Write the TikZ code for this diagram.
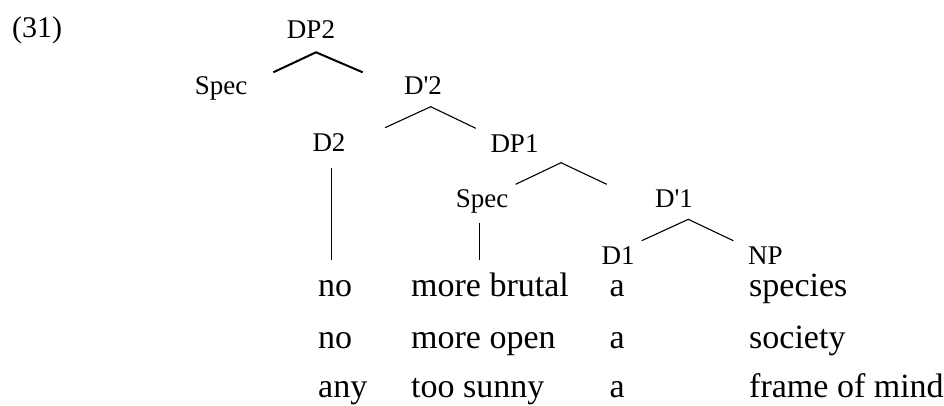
\documentclass[tikz,border=0pt]{standalone}
\usepackage{fontspec}
\setmainfont{Liberation Serif}
\begin{document}
\begin{tikzpicture}[x=1pt,y=-1pt,
  lbl/.style={inner sep=0pt,anchor=base,font=\fontsize{27}{32}\selectfont},
  word/.style={inner sep=0pt,anchor=base west,font=\fontsize{34}{40}\selectfont},
  branch/.style={line width=1.1pt},
  rootbranch/.style={line width=2pt},
  stem/.style={line width=1pt}]
\useasboundingbox (0,0) rectangle (944,405);
% example number
\node[word,font=\fontsize{30}{36}\selectfont] (ex) at (12,37) {(31)};
% tree labels
\node[lbl] (DPtwo) at (311,38) {DP2};
\node[lbl] (SpecA) at (221,94.5) {Spec};
\node[lbl] (Dbartwo) at (423,94.5) {D\textquotesingle 2};
\node[lbl] (Dtwo) at (329,151) {D2};
\node[lbl] (DPone) at (514.5,152) {DP1};
\node[lbl] (SpecB) at (482,207) {Spec};
\node[lbl] (Dbarone) at (674,207) {D\textquotesingle 1};
\node[lbl] (Done) at (618,264) {D1};
\node[lbl,anchor=base west] (NP) at (748,264) {NP};
% branch points
\coordinate (DPtwo-l) at (273.3,72.3);
\coordinate (DPtwo-a) at (316,52.3);
\coordinate (DPtwo-r) at (362.7,72.3);
\coordinate (Dbartwo-l) at (385,127.7);
\coordinate (Dbartwo-a) at (430.7,106.7);
\coordinate (Dbartwo-r) at (475.8,128.3);
\coordinate (DPone-l) at (515.7,184.3);
\coordinate (DPone-a) at (561,162.7);
\coordinate (DPone-r) at (606.7,184.3);
\coordinate (Dbarone-l) at (641.7,240.7);
\coordinate (Dbarone-a) at (688.3,219.3);
\coordinate (Dbarone-r) at (733.3,240.7);
\coordinate (Dtwo-t) at (331,168.3);
\coordinate (Dtwo-b) at (331,260);
\coordinate (SpecB-t) at (479.3,223.3);
\coordinate (SpecB-b) at (479.3,260);
% branches
\draw[rootbranch] (DPtwo-l) -- (DPtwo-a) -- (DPtwo-r);
\draw[branch] (Dbartwo-l) -- (Dbartwo-a) -- (Dbartwo-r);
\draw[branch] (DPone-l) -- (DPone-a) -- (DPone-r);
\draw[branch] (Dbarone-l) -- (Dbarone-a) -- (Dbarone-r);
\draw[stem] (Dtwo-t) -- (Dtwo-b);
\draw[stem] (SpecB-t) -- (SpecB-b);
% rows of words
\node[word] (r1a) at (318,296) {no};
\node[word] (r1b) at (411,296) {more brutal};
\node[word] (r1c) at (609.5,296) {a};
\node[word] (r1d) at (749,296) {species};
\node[word] (r2a) at (318,348) {no};
\node[word] (r2b) at (411,348) {more open};
\node[word] (r2c) at (609.5,348) {a};
\node[word] (r2d) at (749,348) {society};
\node[word] (r3a) at (318,397) {any};
\node[word] (r3b) at (411,397) {too sunny};
\node[word] (r3c) at (609.5,397) {a};
\node[word] (r3d) at (749,397) {frame of mind};
\end{tikzpicture}
\end{document}
